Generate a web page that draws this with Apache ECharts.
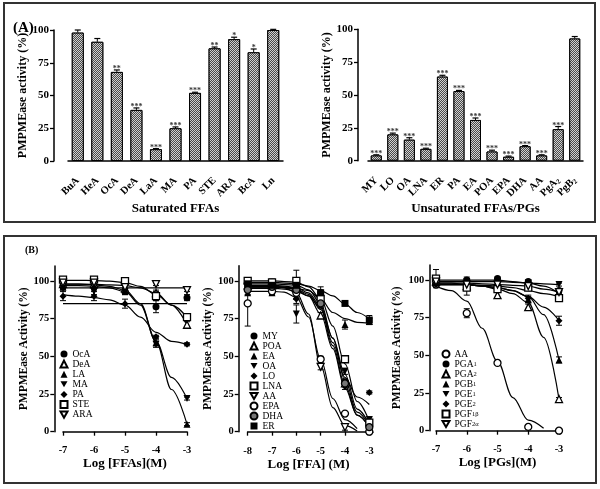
<!DOCTYPE html>
<html><head><meta charset="utf-8">
<script src="https://cdn.jsdelivr.net/npm/echarts@6/dist/echarts.min.js"></script>
<style>html,body{margin:0;padding:0;background:#fff}#c{width:600px;height:489px}</style>
</head><body><div id="c"></div>
<script>
// ---------- Panel A data ----------
const satCats = ['BuA','HeA','OcA','DeA','LaA','MA','PA','STE','ARA','BcA','Ln'];
const satVals = [98, 91, 68, 39, 9, 25, 52, 86, 93, 83, 100];
const satErr  = [2, 2.5, 1.5, 1.5, 0.5, 1, 0.5, 1, 1.5, 2.5, 0.5];
const satSig  = ['', '', '**', '***', '***', '***', '***', '**', '*', '*', ''];

const unsCats = ['MY','LO','OA','LNA','ER','PA','EA','POA','EPA','DHA','AA','PgA2','PgB2'];
const unsVals = [4, 20, 16, 9, 64, 53, 31, 7, 3, 11, 4, 24, 93];
const unsErr  = [0.5, 1, 1.5, 0.5, 1, 0.5, 1.5, 1, 0.5, 0.5, 0.5, 2, 1.5];
const unsSig  = ['***','***','***','***','***','***','***','***','***','***','***','***',''];

const yTicksA = [0, 25, 50, 75, 100];
const yTicksB = [0, 25, 50, 75, 100];

// ---------- Panel B1: saturated FFAs ----------
const b1X = [-7, -6, -5, -4, -3];
const b1FitX = [-7, -6.5, -6, -5.5, -5, -4.5, -4, -3.5, -3];
const b1_OcA = [97, 96, 93, 83, 89];   const b1_OcA_err = [2, 2, 2, 4, 2];
const b1_OcA_fit = [85, 85, 85, 85, 85, 85, 85, 85, 85];
const b1_DeA = [98, 98, 95, 92, 71];   const b1_DeA_err = [1, 1, 2, 2, 2];
const b1_DeA_fit = [98, 98, 97.8, 97.5, 97, 95.5, 92, 84, 71];
const b1_LA = [96, 97, 94, 59, 5];     const b1_LA_err = [1, 1, 2, 2, 1];
const b1_LA_fit = [98, 98, 97.5, 96.5, 94, 85, 60, 28, 5];
const b1_MA = [95, 93, 93, 58, 22];    const b1_MA_err = [1, 2, 2, 2, 1];
const b1_MA_fit = [97, 97, 96.5, 95.5, 93, 84, 60, 36, 22];
const b1_PA = [90, 90, 85, 63, 58];    const b1_PA_err = [3, 3, 3, 1, 1];
const b1_PA_fit = [91, 90, 89, 87.5, 84, 76, 66, 60, 58];
const b1_STE = [101, 101, 100, 90, 76]; const b1_STE_err = [1, 1, 1, 3, 2];
const b1_STE_fit = [100.5, 100.5, 100.3, 100, 99, 96.5, 91, 84, 76];
const b1_ARA = [99, 99, 96, 98, 94];   const b1_ARA_err = [1, 1, 2, 1, 1];
const b1_ARA_fit = [95.5, 95.5, 95.5, 95.5, 95.5, 95.5, 95.5, 95.5, 95.5];

// ---------- Panel B2: unsaturated FFAs ----------
const b2X = [-8, -7, -6, -5, -4, -3];
const b2FitX = [-8, -7.5, -7, -6.5, -6, -5.5, -5, -4.5, -4, -3.5, -3];
const b2_MY = [99, 99, 97, 92, 33, 4];   const b2_MY_err = [1, 2, 2, 2, 2, 2];
const b2_MY_fit = [98, 98, 98, 97.5, 97, 94, 85, 62, 34, 13, 4];
const b2_POA = [97, 97, 95, 77, 32, 2];  const b2_POA_err = [1, 1, 2, 2, 2, 1];
const b2_POA_fit = [96, 96, 96, 95.5, 94, 90, 78, 55, 29, 11, 3];
const b2_EA = [92, 92, 90, 88, 71, 73];  const b2_EA_err = [1, 1, 2, 2, 3, 2];
const b2_EA_fit = [96, 96, 96, 96, 95, 93.5, 88, 79, 75, 72.5, 72];
const b2_OA = [98, 98, 78, 85, 40, 8];   const b2_OA_err = [1, 2, 6, 3, 2, 2];
const b2_OA_fit = [97, 97, 97, 96.5, 95.5, 92, 83, 62, 38, 15, 5];
const b2_LO = [95, 94, 88, 85, 30, 26];  const b2_LO_err = [1, 1, 3, 3, 2, 1];
const b2_LO_fit = [95, 95, 95, 94.5, 93, 90, 82, 59, 36, 23, 18];
const b2_LNA = [100, 99, 100, 88, 48, 6]; const b2_LNA_err = [1, 2, 7, 2, 2, 2];
const b2_LNA_fit = [100, 100, 100, 99.5, 99, 96, 88, 70, 45, 20, 7];
const b2_AA = [96, 95, 93, 43, 3, null]; const b2_AA_err = [1, 1, 2, 2, 2, 0];
const b2_AA_fit = [96, 96, 96, 95.5, 92, 78, 44, 16, 4, 0.5, null];
const b2_EPA = [85, 93, 92, 48, 12, 0];  const b2_EPA_err = [15, 1, 2, 2, 1, 1];
const b2_EPA_fit = [93, 93, 93, 92.5, 89, 76, 48, 22, 8, 2, null];
const b2_DHA = [94, 96, 94, 85, 32, 3];  const b2_DHA_err = [1, 5, 2, 2, 2, 1];
const b2_DHA_fit = [96, 96, 96, 95.5, 94.5, 91, 81, 57, 31, 11, 3];
const b2_ER = [98, 97, 97, 92, 85, 74];  const b2_ER_err = [1, 2, 2, 4, 1, 3];
const b2_ER_fit = [99, 99, 99, 98.5, 98, 96.5, 93.5, 90, 84.6, 79, 74.7];

// ---------- Panel B3: prostaglandins ----------
const b3X = [-7, -6, -5, -4, -3];
const b3FitX = [-7, -6.5, -6, -5.5, -5, -4.5, -4, -3.5, -3];
const b3_AA = [97, 78, 45, 2.5, 0];     const b3_AA_err = [2, 3, 1, 1, 0.5];
const b3_AA_fit = [96, 93, 86, 68, 46, 22, 7, 1.6, null];
const b3_PGA1 = [100, 100, 101, 99, 93]; const b3_PGA1_err = [2, 2, 1, 1, 1];
const b3_PGA1_fit = [100, 100, 100, 100, 100, 99, 98, 96, 91];
const b3_PGA2 = [99, 96, 90, 82, 21];   const b3_PGA2_err = [2, 2, 2, 2, 1];
const b3_PGA2_fit = [98, 98, 97, 96, 94, 91, 85, 62, 21];
const b3_PGB1 = [98, 97, 95, 87, 47];   const b3_PGB1_err = [2, 2, 2, 2, 2];
const b3_PGB1_fit = [97, 97, 97, 96, 95, 93, 89, 77, 47];
const b3_PGE1 = [98, 99, 99, 98, 97];   const b3_PGE1_err = [1, 1, 1, 1, 1];
const b3_PGE1_fit = [99, 99, 99, 99, 99, 98.5, 98, 97.5, 97];
const b3_PGE2 = [97, 96, 96, 88, 73];   const b3_PGE2_err = [2, 1, 1, 2, 3];
const b3_PGE2_fit = [97, 97, 97, 96, 95, 93, 89, 82, 73];
const b3_PGF1b = [101, 95, 94, 95, 88]; const b3_PGF1b_err = [6, 5, 2, 1, 2];
const b3_PGF1b_fit = [97, 97, 97, 96.5, 96, 95, 93, 91, 89];
const b3_PGF2a = [99, 97, 97, 96, 92];  const b3_PGF2a_err = [2, 1, 1, 1, 1];
const b3_PGF2a_fit = [98, 98, 98, 97.5, 97, 96.5, 96, 94, 92];

// ---------- styling helpers ----------
const SERIF = '"Liberation Serif","Times New Roman",serif';
const TRI_DOWN = 'path://M0,0L20,0L10,17.3Z';
const ST = {
  fc: {symbol: 'circle', fill: '#000'},
  oc: {symbol: 'circle', fill: '#fff'},
  ft: {symbol: 'triangle', fill: '#000'},
  ot: {symbol: 'triangle', fill: '#fff'},
  fd: {symbol: TRI_DOWN, fill: '#000'},
  od: {symbol: TRI_DOWN, fill: '#fff'},
  dm: {symbol: 'diamond', fill: '#000'},
  os: {symbol: 'rect', fill: '#fff'},
  fs: {symbol: 'rect', fill: '#000'},
  gc: {symbol: 'circle', fill: '#777'}
};

function pairs(xs, ys) {
  const out = [];
  xs.forEach((x, i) => { if (ys[i] !== null && ys[i] !== undefined) out.push([x, ys[i]]); });
  return out;
}

const panelB = [
  {g: 2, x: b1X, fx: b1FitX, list: [
    ['b1:OcA', b1_OcA, b1_OcA_err, b1_OcA_fit, 'fc'],
    ['b1:DeA', b1_DeA, b1_DeA_err, b1_DeA_fit, 'ot'],
    ['b1:LA', b1_LA, b1_LA_err, b1_LA_fit, 'ft'],
    ['b1:MA', b1_MA, b1_MA_err, b1_MA_fit, 'fd'],
    ['b1:PA', b1_PA, b1_PA_err, b1_PA_fit, 'dm'],
    ['b1:STE', b1_STE, b1_STE_err, b1_STE_fit, 'os'],
    ['b1:ARA', b1_ARA, b1_ARA_err, b1_ARA_fit, 'od']
  ]},
  {g: 3, x: b2X, fx: b2FitX, list: [
    ['b2:MY', b2_MY, b2_MY_err, b2_MY_fit, 'fc'],
    ['b2:POA', b2_POA, b2_POA_err, b2_POA_fit, 'ot'],
    ['b2:EA', b2_EA, b2_EA_err, b2_EA_fit, 'ft'],
    ['b2:OA', b2_OA, b2_OA_err, b2_OA_fit, 'fd'],
    ['b2:LO', b2_LO, b2_LO_err, b2_LO_fit, 'dm'],
    ['b2:LNA', b2_LNA, b2_LNA_err, b2_LNA_fit, 'os'],
    ['b2:AA', b2_AA, b2_AA_err, b2_AA_fit, 'od'],
    ['b2:EPA', b2_EPA, b2_EPA_err, b2_EPA_fit, 'oc'],
    ['b2:DHA', b2_DHA, b2_DHA_err, b2_DHA_fit, 'gc'],
    ['b2:ER', b2_ER, b2_ER_err, b2_ER_fit, 'fs']
  ]},
  {g: 4, x: b3X, fx: b3FitX, list: [
    ['b3:AA', b3_AA, b3_AA_err, b3_AA_fit, 'oc'],
    ['b3:PGA1', b3_PGA1, b3_PGA1_err, b3_PGA1_fit, 'fc'],
    ['b3:PGA2', b3_PGA2, b3_PGA2_err, b3_PGA2_fit, 'ot'],
    ['b3:PGB1', b3_PGB1, b3_PGB1_err, b3_PGB1_fit, 'ft'],
    ['b3:PGE1', b3_PGE1, b3_PGE1_err, b3_PGE1_fit, 'fd'],
    ['b3:PGE2', b3_PGE2, b3_PGE2_err, b3_PGE2_fit, 'dm'],
    ['b3:PGF1b', b3_PGF1b, b3_PGF1b_err, b3_PGF1b_fit, 'os'],
    ['b3:PGF2a', b3_PGF2a, b3_PGF2a_err, b3_PGF2a_fit, 'od']
  ]}
];

const series = [];

// ---- bar panels ----
const barDecal = {symbol: 'rect', symbolSize: 1, dashArrayX: [[1, 1], [0, 1, 1, 0]], dashArrayY: [1, 0], color: '#4a4a4a', backgroundColor: '#d0d0d0'};
function barPanel(g, vals, errs, sigs, bw) {
  series.push({
    type: 'bar', xAxisIndex: g, yAxisIndex: g, data: vals, barWidth: bw,
    itemStyle: {color: '#999', borderColor: '#000', borderWidth: 1, decal: barDecal},
    silent: true, z: 2
  });
  series.push({
    type: 'custom', xAxisIndex: g, yAxisIndex: g, silent: true, z: 3,
    data: vals.map((v, i) => [i, v, errs[i]]),
    renderItem: function (params, api) {
      const i = api.value(0), v = api.value(1), e = api.value(2);
      const b = api.coord([i, v]), t = api.coord([i, v + e]);
      const sig = sigs[params.dataIndex];
      return {type: 'group', children: [
        {type: 'line', shape: {x1: b[0], y1: b[1], x2: t[0], y2: t[1]}, style: {stroke: '#000', lineWidth: 1}},
        {type: 'line', shape: {x1: t[0] - 3, y1: t[1], x2: t[0] + 3, y2: t[1]}, style: {stroke: '#000', lineWidth: 1.2}},
        {type: 'text', style: {text: sig, x: t[0], y: t[1] + 3, align: 'center', verticalAlign: 'bottom',
          fontSize: 8, fontFamily: SERIF, fontWeight: 'bold', fill: '#333'}}
      ]};
    }
  });
}
barPanel(0, satVals, satErr, satSig, 12);
barPanel(1, unsVals, unsErr, unsSig, 11);

// ---- curve panels ----
panelB.forEach(p => {
  const errData = [];
  p.list.forEach(s => {
    const [name, ys, es, fit, st] = s;
    const sd = ST[st];
    series.push({
      type: 'line', xAxisIndex: p.g, yAxisIndex: p.g, data: pairs(p.fx, fit),
      showSymbol: false, smooth: 0.35, smoothMonotone: 'x', silent: true, z: 2,
      lineStyle: {color: '#000', width: 1.2}
    });
    series.push({
      name: name, type: 'scatter', xAxisIndex: p.g, yAxisIndex: p.g, data: pairs(p.x, ys),
      symbol: sd.symbol, symbolSize: 7, silent: true, z: 4,
      itemStyle: {color: sd.fill, borderColor: '#000', borderWidth: sd.fill === '#000' ? 0 : 1.3, opacity: 1}
    });
    p.x.forEach((x, i) => { if (ys[i] !== null && es[i]) errData.push([x, ys[i], es[i]]); });
  });
  series.push({
    type: 'custom', xAxisIndex: p.g, yAxisIndex: p.g, silent: true, z: 3, data: errData,
    renderItem: function (params, api) {
      const x = api.value(0), y = api.value(1), e = api.value(2);
      const t = api.coord([x, y + e]), b = api.coord([x, y - e]);
      return {type: 'group', children: [
        {type: 'line', shape: {x1: t[0], y1: t[1], x2: b[0], y2: b[1]}, style: {stroke: '#000', lineWidth: 1}},
        {type: 'line', shape: {x1: t[0] - 3, y1: t[1], x2: t[0] + 3, y2: t[1]}, style: {stroke: '#000', lineWidth: 1}},
        {type: 'line', shape: {x1: b[0] - 3, y1: b[1], x2: b[0] + 3, y2: b[1]}, style: {stroke: '#000', lineWidth: 1}}
      ]};
    }
  });
});

// ---------- axes ----------
const axisLineStyle = {show: true, lineStyle: {color: '#000', width: 1.5}};
const tickStyle = {show: true, inside: false, length: 4, lineStyle: {color: '#000', width: 1.3}};
const boldLbl = (size) => ({fontFamily: SERIF, fontWeight: 'bold', fontSize: size, color: '#000'});
const subRich = {s: {fontFamily: SERIF, fontWeight: 'bold', fontSize: 7, color: '#000', verticalAlign: 'bottom', padding: [5, 0, 0, 0]}};

function catLabel(v) {
  const m = v.match(/^(Pg[AB])(\d)$/);
  return m ? m[1] + '{s|' + m[2] + '}' : v;
}

const grid = [
  {left: 68, top: 30, width: 215, height: 131},
  {left: 368, top: 29.3, width: 215, height: 131.4},
  {left: 63, top: 266, width: 124, height: 165.7},
  {left: 247.7, top: 265.7, width: 121.6, height: 166},
  {left: 436, top: 265, width: 123, height: 165.7}
];

const xAxis = [
  {gridIndex: 0, type: 'category', data: satCats, offset: 9, axisLine: axisLineStyle, axisTick: {show: false},
   axisLabel: Object.assign(boldLbl(10.5), {rotate: 45, margin: 9, interval: 0}),
   name: 'Saturated FFAs', nameLocation: 'middle', nameGap: 27, nameTextStyle: boldLbl(13)},
  {gridIndex: 1, type: 'category', data: unsCats, offset: 9, axisLine: axisLineStyle, axisTick: {show: false},
   axisLabel: Object.assign(boldLbl(10.5), {rotate: 45, margin: 9, interval: 0, formatter: catLabel, rich: subRich}),
   name: 'Unsaturated FFAs/PGs', nameLocation: 'middle', nameGap: 27, nameTextStyle: boldLbl(13)},
  {gridIndex: 2, type: 'value', min: -7, max: -3, interval: 1, offset: 8.3, axisLine: axisLineStyle, axisTick: tickStyle,
   splitLine: {show: false}, axisLabel: Object.assign(boldLbl(10.5), {margin: 5}),
   name: 'Log [FFAs](M)', nameLocation: 'middle', nameGap: 16, nameTextStyle: boldLbl(13)},
  {gridIndex: 3, type: 'value', min: -8, max: -3, interval: 1, offset: 9.3, axisLine: axisLineStyle, axisTick: tickStyle,
   splitLine: {show: false}, axisLabel: Object.assign(boldLbl(10.5), {margin: 5}),
   name: 'Log [FFA] (M)', nameLocation: 'middle', nameGap: 15, nameTextStyle: boldLbl(13)},
  {gridIndex: 4, type: 'value', min: -7, max: -3, interval: 1, offset: 8, axisLine: axisLineStyle, axisTick: tickStyle,
   splitLine: {show: false}, axisLabel: Object.assign(boldLbl(10.5), {margin: 5}),
   name: 'Log [PGs](M)', nameLocation: 'middle', nameGap: 17, nameTextStyle: boldLbl(13)}
];

function yA(g, offset, nameGap) {
  return {gridIndex: g, type: 'value', min: 0, max: 100, interval: 25, offset: offset,
    axisLine: axisLineStyle, axisTick: tickStyle, splitLine: {show: false},
    axisLabel: Object.assign(boldLbl(11), {margin: 5}),
    name: 'PMPMEase activity (%)', nameLocation: 'middle', nameRotate: 90, nameGap: nameGap,
    nameTextStyle: boldLbl(12)};
}
function yB(g, offset, nameGap) {
  return {gridIndex: g, type: 'value', min: 0, max: 110, interval: 25, offset: offset,
    axisLine: axisLineStyle,
    axisTick: Object.assign({}, tickStyle, {customValues: yTicksB}), splitLine: {show: false},
    axisLabel: Object.assign(boldLbl(10.5), {margin: 5, customValues: yTicksB}),
    name: 'PMPMEase Activity (%)', nameLocation: 'middle', nameRotate: 90, nameGap: nameGap,
    nameTextStyle: boldLbl(11.5)};
}
const yAxis = [yA(0, 14, 19), yA(1, 10, 22), yB(2, 8.7, 20), yB(3, 9, 19), yB(4, 6.7, 26)];

// ---------- legends ----------
const legRich = {s: {fontFamily: SERIF, fontSize: 6.5, color: '#000', verticalAlign: 'bottom', padding: [4, 0, 0, 0]}};
function legFmt(name) {
  const n = name.split(':')[1];
  const map = {PGA1: 'PGA{s|1}', PGA2: 'PGA{s|2}', PGB1: 'PGB{s|1}', PGE1: 'PGE{s|1}', PGE2: 'PGE{s|2}',
    PGF1b: 'PGF{s|1β}', PGF2a: 'PGF{s|2α}'};
  return map[n] || n;
}
function legend(p, left, top, gap) {
  return {data: p.list.map(s => s[0]), orient: 'vertical', left: left, top: top, padding: 0,
    itemWidth: 7, itemHeight: 7, itemGap: gap, selectedMode: false, formatter: legFmt,
    textStyle: {fontFamily: SERIF, fontSize: 9.5, color: '#000', lineHeight: 8, rich: legRich}};
}

const option = {
  animation: false,
  backgroundColor: '#fff',
  grid: grid, xAxis: xAxis, yAxis: yAxis, series: series,
  legend: [legend(panelB[0], 59.5, 349, 0.1), legend(panelB[1], 249.5, 331, 0), legend(panelB[2], 441.5, 349, 0)],
  graphic: [
    {type: 'rect', shape: {x: 4, y: 3, width: 591, height: 219}, style: {fill: 'none', stroke: '#333', lineWidth: 2}, silent: true},
    {type: 'rect', shape: {x: 4, y: 236, width: 592, height: 247}, style: {fill: 'none', stroke: '#333', lineWidth: 2}, silent: true},
    {type: 'text', left: 13, top: 21, style: {text: '(A)', fontFamily: SERIF, fontWeight: 'bold', fontSize: 15, fill: '#000'}, silent: true},
    {type: 'text', left: 25, top: 245, style: {text: '(B)', fontFamily: SERIF, fontWeight: 'bold', fontSize: 10, fill: '#000'}, silent: true}
  ]
};

const chart = echarts.init(document.getElementById('c'));
chart.setOption(option);
</script>
</body></html>
